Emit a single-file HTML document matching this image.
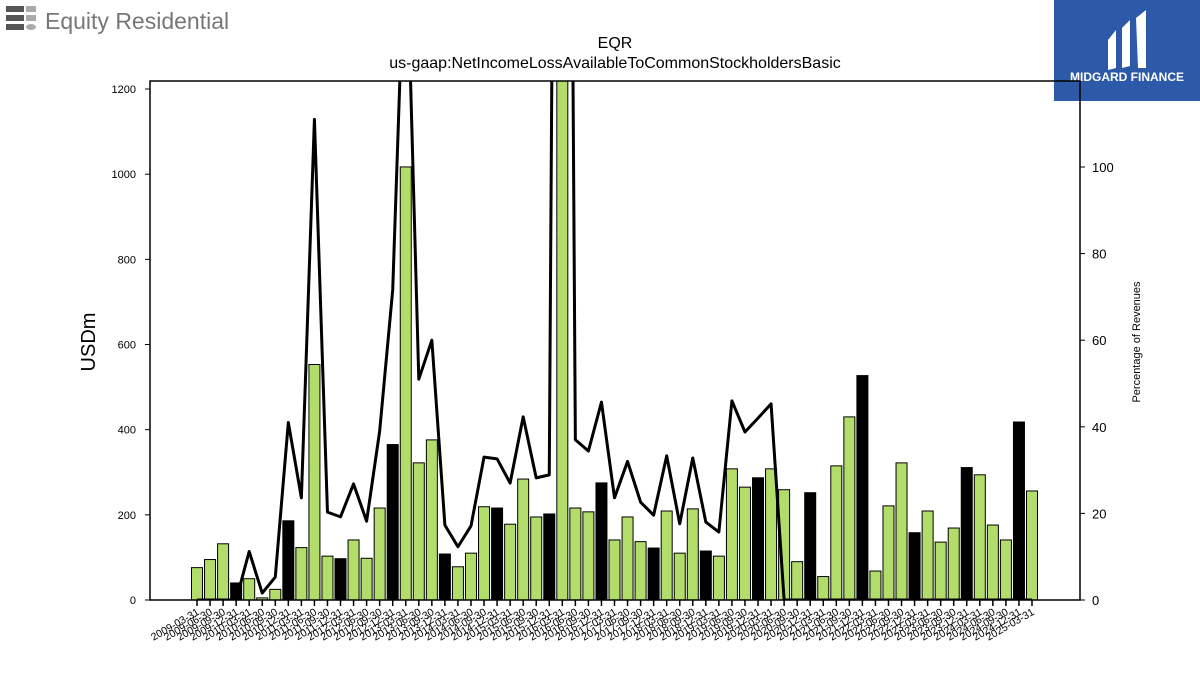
<!DOCTYPE html>
<html><head><meta charset="utf-8"><style>
body{margin:0;background:#fff;font-family:"Liberation Sans","DejaVu Sans",sans-serif}
#wrap{position:relative;width:1200px;height:675px;overflow:hidden}
</style></head><body>
<div id="wrap">
<svg id="chart" width="1200" height="675" style="position:absolute;left:0;top:0">
  <g>
    <rect x="6" y="6" width="18" height="6" fill="#555"/><rect x="26" y="6" width="10" height="6" fill="#aaa"/>
    <rect x="6" y="15" width="18" height="6" fill="#555"/><rect x="26" y="15" width="10" height="6" fill="#aaa"/>
    <rect x="6" y="24" width="18" height="6" fill="#555"/><ellipse cx="31" cy="27" rx="5" ry="3" fill="#aaa"/>
    <text x="45" y="29" font-size="23" fill="#777">Equity Residential</text>
  </g>
  <g>
    <rect x="1054" y="0" width="146" height="101" fill="#2c5aa8"/>
    <path d="M1108 40 L1116 30 L1116 68 L1108 70 Z M1122 28 L1130 20 L1130 66 L1122 68 Z M1136 18 L1146 10 L1146 68 L1138 68 Z" fill="#fff"/>
    <text x="1127" y="81" font-size="12" font-weight="bold" fill="#fff" text-anchor="middle">MIDGARD FINANCE</text>
  </g>
  <text x="615" y="48" font-size="16" text-anchor="middle">EQR</text>
  <text x="615" y="68" font-size="16" text-anchor="middle">us-gaap:NetIncomeLossAvailableToCommonStockholdersBasic</text>
  <text transform="translate(95,342) rotate(-90)" font-size="20" text-anchor="middle">USDm</text>
  <text transform="translate(1140,342) rotate(-90)" font-size="11" text-anchor="middle">Percentage of Revenues</text>
  <g id="bars"></g><g id="line"></g><g id="axes"></g>
</svg>
</div>
<script>
const dates=[];
for(let y=2009;y<=2025;y++){for(const q of ["03-31","06-30","09-30","12-31"]){if(y===2025&&q!=="03-31")break;dates.push(y+"-"+q);}}
const netIncome=[76,95,132,40,50,5,25,186,123,553,103,97,141,98,216,365,1017,322,376,108,78,110,219,216,178,284,195,202,3600,216,207,275,141,195,137,122,209,110,214,115,103,308,265,287,308,259,90,252,55,315,430,527,68,221,322,158,209,136,169,311,294,176,141,418,256];
const pctRevenue=[0,0,0,0,11.2,1.6,5.3,41,23.6,111,20.3,19.2,26.8,18.2,39,71.6,160,51,60,17.3,12.3,17.1,33,32.6,27,42.3,28.2,28.9,500,37,34.4,45.7,23.6,32,22.6,19.6,33.3,17.6,32.8,18,15.7,46,38.8,42,45.3,0,0,0,0,0,0,0,0,0,0,0,0,0,0,0,0,0,0,0,0];
const leftTicks=[0,200,400,600,800,1000,1200];
const rightTicks=[0,20,40,60,80,100];
const NS="http://www.w3.org/2000/svg";
const L=150,R=1080,T=81,B=600;
const xs=i=>197+i*(835/(dates.length-1));
const yL=v=>B-v*(511/1200);
const yR=v=>B-v*(433/100);
function mk(tag,attrs,parent){const e=document.createElementNS(NS,tag);for(const k in attrs)e.setAttribute(k,attrs[k]);parent.appendChild(e);return e;}
const clip=mk("clipPath",{id:"pc"},document.getElementById("chart"));mk("rect",{x:L,y:T,width:R-L,height:B-T},clip);
const gb=document.getElementById("bars");gb.setAttribute("clip-path","url(#pc)");
netIncome.forEach((v,i)=>{
  const r=mk("rect",{x:xs(i)-5.5,y:yL(v),width:11,height:B-yL(v),fill:(i%4===3)?"#000":"#b3dd6b",stroke:"#000","stroke-width":1},gb);
  
  
});
const gl=document.getElementById("line");gl.setAttribute("clip-path","url(#pc)");
const pl=mk("polyline",{points:pctRevenue.map((v,i)=>xs(i)+","+yR(v)).join(" "),fill:"none",stroke:"#000","stroke-width":3,"stroke-linejoin":"round"},gl);


const ga=document.getElementById("axes");
const frame=mk("rect",{x:L,y:T,width:R-L,height:B-T,fill:"none",stroke:"#000","stroke-width":1.5},ga);


leftTicks.forEach(t=>{
  mk("line",{x1:L-5,x2:L,y1:yL(t),y2:yL(t),stroke:"#000"},ga);
  const tx=mk("text",{x:L-14,y:yL(t)+4,"font-size":11,"text-anchor":"end"},ga);tx.textContent=t;
  
  
});
rightTicks.forEach(t=>{
  mk("line",{x1:R,x2:R+5,y1:yR(t),y2:yR(t),stroke:"#000"},ga);
  const tx=mk("text",{x:R+12,y:yR(t)+5,"font-size":13},ga);tx.textContent=t;
  
  
});
dates.forEach((d,i)=>{
  const x=xs(i);
  mk("line",{x1:x,x2:x,y1:B,y2:B+6,stroke:"#000","stroke-width":1.5},ga);
  const tx=mk("text",{transform:"translate("+(x+3)+","+(B+14)+") rotate(-30)","font-size":10.5,"text-anchor":"end"},ga);tx.textContent=d;
  
  
});
</script>
</body></html>
